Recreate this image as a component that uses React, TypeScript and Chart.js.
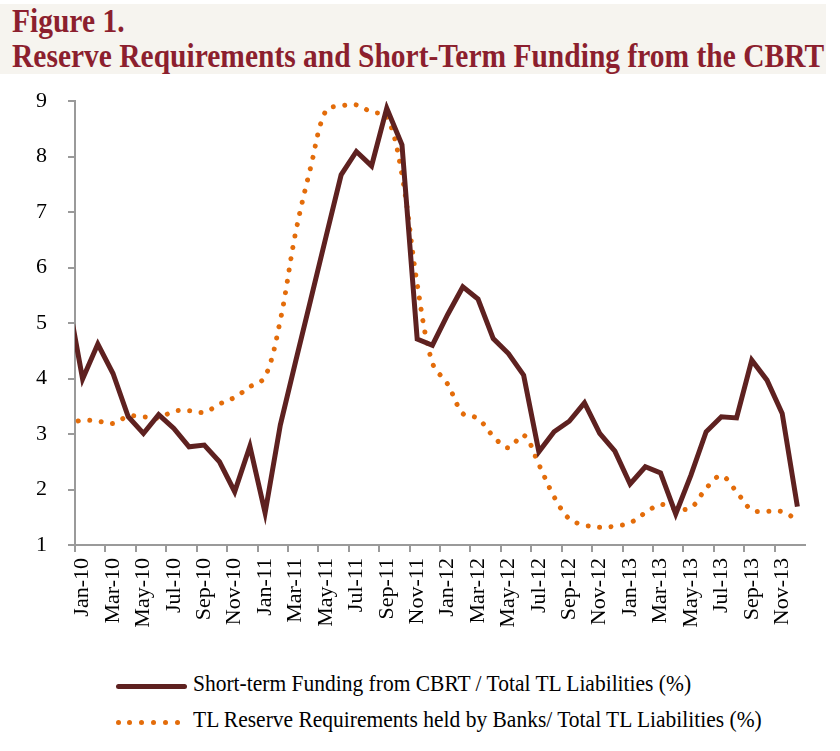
import React, { useEffect, useRef } from "react";
import { Chart, registerables } from "chart.js";

Chart.register(...registerables);

// Monthly categories (Dec-09 lies just left of the visible axis, as in the original)
const labels = [
  "Dec-09",
  "Jan-10", "Feb-10", "Mar-10", "Apr-10", "May-10", "Jun-10", "Jul-10", "Aug-10", "Sep-10", "Oct-10", "Nov-10", "Dec-10",
  "Jan-11", "Feb-11", "Mar-11", "Apr-11", "May-11", "Jun-11", "Jul-11", "Aug-11", "Sep-11", "Oct-11", "Nov-11", "Dec-11",
  "Jan-12", "Feb-12", "Mar-12", "Apr-12", "May-12", "Jun-12", "Jul-12", "Aug-12", "Sep-12", "Oct-12", "Nov-12", "Dec-12",
  "Jan-13", "Feb-13", "Mar-13", "Apr-13", "May-13", "Jun-13", "Jul-13", "Aug-13", "Sep-13", "Oct-13", "Nov-13", "Dec-13",
];

const shortTermFunding = [
  5.5,
  3.99, 4.62, 4.09, 3.31, 3.01, 3.35, 3.10, 2.77, 2.80, 2.50, 1.96, 2.78,
  1.58, 3.16, 4.30, 5.42, 6.55, 7.67, 8.09, 7.83, 8.87, 8.21, 4.71, 4.60,
  5.15, 5.65, 5.43, 4.72, 4.45, 4.06, 2.68, 3.04, 3.23, 3.56, 3.01, 2.69,
  2.10, 2.41, 2.30, 1.56, 2.26, 3.04, 3.31, 3.29, 4.33, 3.97, 3.37, 1.69,
];

const reserveRequirements = [
  3.17,
  3.25, 3.23, 3.19, 3.32, 3.31, 3.29, 3.41, 3.42, 3.39, 3.54, 3.66, 3.85,
  4.03, 5.05, 6.62, 7.81, 8.83, 8.91, 8.93, 8.80, 8.73, 7.67, 5.70, 4.28,
  3.90, 3.37, 3.28, 2.96, 2.75, 2.98, 2.45, 1.87, 1.47, 1.36, 1.32, 1.34,
  1.40, 1.58, 1.73, 1.65, 1.67, 2.02, 2.25, 1.96, 1.63, 1.61, 1.60, 1.45,
];

const yTicks = [1, 2, 3, 4, 5, 6, 7, 8, 9];

const seriesNames = [
  "Short-term Funding from CBRT / Total TL Liabilities (%)",
  "TL Reserve Requirements held by Banks/ Total TL Liabilities (%)",
];

const titleLines = ["Figure 1.", "Reserve Requirements and Short-Term Funding from the CBRT"];

const DARK = "#5e2120";
const ORANGE = "#e36c0a";
const AXIS = "#9a9a9a";
const TITLE = "#8c1f2e";
const SERIF = "'Liberation Serif', 'Times New Roman', serif";

export default function App() {
  const canvasRef = useRef<HTMLCanvasElement | null>(null);

  useEffect(() => {
    const canvas = canvasRef.current;
    if (!canvas) return;
    const chart = new Chart(canvas, {
      type: "line",
      data: {
        labels,
        datasets: [
          {
            label: seriesNames[0],
            data: shortTermFunding,
            borderColor: DARK,
            backgroundColor: DARK,
            borderWidth: 5,
            borderJoinStyle: "miter",
            pointRadius: 0,
            tension: 0,
          },
          {
            label: seriesNames[1],
            data: reserveRequirements,
            borderColor: ORANGE,
            backgroundColor: ORANGE,
            borderWidth: 5,
            borderCapStyle: "round",
            borderDash: [0.001, 11.5],
            pointRadius: 0,
            tension: 0.35,
          },
        ],
      },
      options: {
        responsive: false,
        animation: false,
        layout: { padding: { left: 0, right: 35, top: 21, bottom: 0 } },
        plugins: { legend: { display: false }, tooltip: { enabled: false }, title: { display: false } },
        scales: {
          x: {
            type: "category",
            min: "Jan-10",
            max: "Dec-13",
            offset: true,
            afterFit: (scale: any) => {
              scale.height = 105;
            },
            grid: {
              drawOnChartArea: false,
              drawTicks: true,
              tickLength: 7,
              lineWidth: 2,
              offset: true,
              color: (ctx: any) => (ctx.index % 2 === 0 ? AXIS : "rgba(0,0,0,0)"),
            },
            border: { display: true, color: AXIS, width: 2 },
            ticks: {
              autoSkip: false,
              minRotation: 90,
              maxRotation: 90,
              padding: 6,
              color: "#000",
              font: { family: SERIF, size: 22 },
              callback: (value: any, index: number) => (index % 2 === 0 ? labels[value as number] : ""),
            },
          },
          y: {
            min: 1,
            max: 9,
            afterFit: (scale: any) => {
              scale.width = 75;
              scale.paddingTop = 12;
              scale.paddingBottom = 12;
            },
            afterBuildTicks: (scale: any) => {
              scale.ticks = yTicks.map((v) => ({ value: v }));
            },
            grid: {
              drawOnChartArea: false,
              drawTicks: true,
              tickLength: 7,
              lineWidth: 2,
              color: AXIS,
            },
            border: { display: true, color: AXIS, width: 2 },
            ticks: {
              padding: 21,
              color: "#000",
              font: { family: SERIF, size: 22 },
            },
          },
        },
      },
    });
    return () => chart.destroy();
  }, []);

  const textStyle = (size: number, bold: boolean, color: string, top: number, left: number, sy: number) => ({
    position: "absolute" as const,
    top,
    left,
    fontFamily: SERIF,
    fontSize: size,
    fontWeight: bold ? 700 : 400,
    color,
    lineHeight: 1,
    whiteSpace: "nowrap" as const,
    transform: `scaleY(${sy})`,
    transformOrigin: "top left",
  });

  const dots = [0, 1, 2, 3, 4, 5];

  return (
    <div style={{ position: "absolute", left: 0, top: 0, width: 840, height: 751, background: "#fff", overflow: "hidden" }}>
      <div style={{ position: "absolute", left: 0, top: 4, width: 826, height: 70, background: "#f6f4ef" }} />
      <div style={textStyle(29.5, true, TITLE, 4, 12, 1.15)}>{titleLines[0]}</div>
      <div style={textStyle(29.5, true, TITLE, 39, 12, 1.15)}>{titleLines[1]}</div>
      <canvas ref={canvasRef} width={840} height={570} style={{ position: "absolute", left: 0, top: 80, width: 840, height: 570 }} />
      <div style={{ position: "absolute", left: 116, top: 684, width: 71, height: 5, borderRadius: 3, background: DARK }} />
      <div style={textStyle(21.5, false, "#000", 673, 193, 1.07)}>{seriesNames[0]}</div>
      {dots.map((d) => (
        <div
          key={d}
          style={{
            position: "absolute",
            left: 115.5 + d * 11.8,
            top: 719.5,
            width: 5,
            height: 5,
            borderRadius: "50%",
            background: ORANGE,
          }}
        />
      ))}
      <div style={textStyle(21.5, false, "#000", 709, 193, 1.07)}>{seriesNames[1]}</div>
    </div>
  );
}
